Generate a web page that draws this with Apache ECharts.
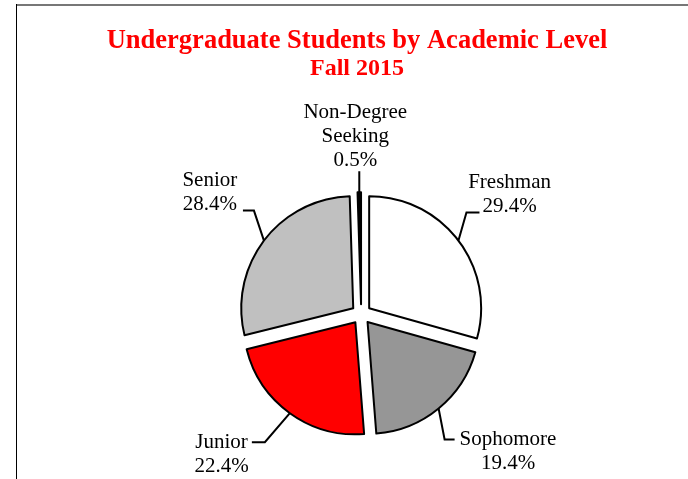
<!DOCTYPE html>
<html><head><meta charset="utf-8">
<script src="https://cdn.jsdelivr.net/npm/echarts@6/dist/echarts.min.js"></script>
<style>html,body{margin:0;padding:0;background:#fff}#c{width:688px;height:479px}</style>
</head><body><div id="c"></div>
<script>
const categories = ['Freshman', 'Sophomore', 'Junior', 'Senior', 'Non-Degree\nSeeking'];
const values = [29.4, 19.4, 22.4, 28.4, 0.5];
const colors = ['#ffffff', '#969696', '#ff0000', '#c0c0c0', '#000000'];
const titleText = 'Undergraduate Students by Academic Level';
const subtitleText = 'Fall 2015';

// leader-line styling per label: [elbow dx, elbow dy, horizontal length, text gap]
const LEADER_STYLE = [[8, -28, 13, 3], [6, 31, 10, 5], [-25, 29, 13, 4], [-10, -30, 11, 6]];

const FONT = '"Liberation Serif", "Times New Roman", serif';
const FS = 21, LH = 24;
const W = 688, H = 479;
const CX = 0.525 * W, CY = 0.656 * H, R = 112, EXPLODE = 10;
const TITLE_CENTER = 357;

const mctx = document.createElement('canvas').getContext('2d');
function tw(t, font) { mctx.font = font; return mctx.measureText(t).width; }
function pct(v) { return v.toFixed(1) + '%'; }

const total = values.reduce((a, b) => a + b, 0);
let acc = 0;
const mids = values.map(v => { const m = (acc + v / 2) / total * 2 * Math.PI; acc += v; return m; });

function labelLayoutFor(i) {
  return function (p) {
    const pts = p.labelLinePoints;
    if (!pts) return {};
    const p0 = pts[0];
    if (i === 4) {
      const p1 = [p0[0], p0[1] - 21];
      return { labelLinePoints: [p0, p1, p1], x: p0[0] - 4, y: p1[1] + 1, align: 'center', verticalAlign: 'bottom' };
    }
    const st = LEADER_STYLE[i];
    const sx = st[0] >= 0 ? 1 : -1;
    const sy = st[1] >= 0 ? 1 : -1;
    const p1 = [p0[0] + st[0], p0[1] + st[1]];
    const p2 = [p1[0] + sx * st[2], p1[1]];
    const anchor = sy < 0 ? pct(values[i]) : categories[i];
    const lx = p2[0] + sx * (st[3] + tw(anchor, FS + 'px ' + FONT) / 2);
    const ly = sy < 0 ? p2[1] - 6 - LH / 2 : p2[1] + LH / 2;
    return { labelLinePoints: [p0, p1, p2], x: lx, y: ly, align: 'center', verticalAlign: 'middle' };
  };
}

const series = categories.map((name, i) => ({
  type: 'pie',
  center: [CX + EXPLODE * Math.sin(mids[i]), CY - EXPLODE * Math.cos(mids[i])],
  radius: R,
  startAngle: 90,
  clockwise: true,
  avoidLabelOverlap: false,
  silent: true,
  emphasis: { disabled: true },
  data: categories.map((n, j) => ({
    name: n, value: values[j],
    itemStyle: j === i ? { color: colors[j], borderColor: '#000', borderWidth: 2 }
                       : { color: 'rgba(0,0,0,0)', borderWidth: 0 },
    label: { show: j === i },
    labelLine: { show: j === i }
  })),
  label: {
    position: 'outside',
    formatter: p => p.name + '\n' + pct(p.value),
    fontFamily: FONT, fontSize: FS, lineHeight: LH, color: '#000'
  },
  labelLine: { length: 15, length2: 10, lineStyle: { color: '#000', width: 2 } },
  labelLayout: labelLayoutFor(i)
}));

const tFont = 'bold 26.5px ' + FONT, sFont = 'bold 24px ' + FONT;
const option = {
  animation: false,
  backgroundColor: '#ffffff',
  title: [
    { text: titleText, left: TITLE_CENTER - tw(titleText, tFont) / 2, top: 28, padding: 0,
      textStyle: { color: '#ff0000', fontFamily: FONT, fontWeight: 'bold', fontSize: 26.5 } },
    { text: subtitleText, left: TITLE_CENTER - tw(subtitleText, sFont) / 2, top: 57, padding: 0,
      textStyle: { color: '#ff0000', fontFamily: FONT, fontWeight: 'bold', fontSize: 24 } }
  ],
  graphic: [
    { type: 'line', shape: { x1: 16, y1: 5, x2: 688, y2: 5 }, style: { stroke: '#777', lineWidth: 2 } },
    { type: 'line', shape: { x1: 16.5, y1: 4, x2: 16.5, y2: 479 }, style: { stroke: '#000', lineWidth: 1 } }
  ],
  series: series
};
const chart = echarts.init(document.getElementById('c'), null, { renderer: 'canvas' });
chart.setOption(option);
</script>
</body></html>
